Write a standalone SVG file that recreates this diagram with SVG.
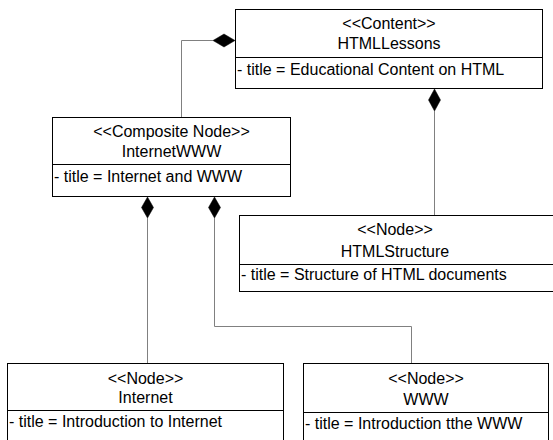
<svg xmlns="http://www.w3.org/2000/svg" width="553" height="440" viewBox="0 0 553 440">
<style>
.box{fill:#fff;stroke:#000;stroke-width:1}
.div{stroke:#000;stroke-width:1}
.t{font-family:"Liberation Sans",Arial,sans-serif;font-size:16px;fill:#000}
.c{text-anchor:middle}
.con{fill:none;stroke:#808080;stroke-width:1}
.dia{fill:#000;stroke:#000;stroke-width:0.5}
</style>
<rect width="553" height="440" fill="#fff"/>
<g id="connectors">
<polyline class="con" points="213,40.5 181.5,40.5 181.5,117"/>
<polygon class="dia" points="235,40.5 224,34 213,40.5 224,47"/>
<line class="con" x1="434.5" y1="111" x2="434.5" y2="215"/>
<polygon class="dia" points="434.5,89 440.5,100 434.5,111 428.5,100"/>
<line class="con" x1="147.5" y1="218" x2="147.5" y2="363"/>
<polygon class="dia" points="147.5,197 153.5,207.5 147.5,218 141.5,207.5"/>
<polyline class="con" points="214.5,218 214.5,326.5 411.5,326.5 411.5,363"/>
<polygon class="dia" points="214.5,197 220.5,207.5 214.5,218 208.5,207.5"/>
</g>
<g id="HTMLLessons">
<rect class="box" x="235.5" y="9.5" width="307" height="79"/>
<line class="div" x1="235.5" y1="57.5" x2="542.5" y2="57.5"/>
<text class="t c" x="389" y="29">&lt;&lt;Content&gt;&gt;</text>
<text class="t c" x="389" y="48.5">HTMLLessons</text>
<text class="t" x="237" y="74.5">- title = Educational Content on HTML</text>
</g>
<g id="InternetWWW">
<rect class="box" x="52.5" y="117.5" width="238" height="79"/>
<line class="div" x1="52.5" y1="164.5" x2="290.5" y2="164.5"/>
<text class="t c" x="171.5" y="137">&lt;&lt;Composite Node&gt;&gt;</text>
<text class="t c" x="171.5" y="156.5">InternetWWW</text>
<text class="t" x="54" y="181.5">- title = Internet and WWW</text>
</g>
<g id="HTMLStructure">
<rect class="box" x="239.5" y="215.5" width="320" height="76"/>
<line class="div" x1="239.5" y1="264.5" x2="559.5" y2="264.5"/>
<text class="t c" x="395" y="234.5">&lt;&lt;Node&gt;&gt;</text>
<text class="t c" x="395" y="256.5">HTMLStructure</text>
<text class="t" x="241" y="279.5">- title = Structure of HTML documents</text>
</g>
<g id="Internet">
<rect class="box" x="7.5" y="363.5" width="276" height="82"/>
<line class="div" x1="7.5" y1="410.5" x2="283.5" y2="410.5"/>
<text class="t c" x="145.5" y="383.5">&lt;&lt;Node&gt;&gt;</text>
<text class="t c" x="145.5" y="403">Internet</text>
<text class="t" x="9" y="426.5">- title = Introduction to Internet</text>
</g>
<g id="WWW">
<rect class="box" x="303.5" y="363.5" width="245" height="82"/>
<line class="div" x1="303.5" y1="412.5" x2="548.5" y2="412.5"/>
<text class="t c" x="426" y="383.5">&lt;&lt;Node&gt;&gt;</text>
<text class="t c" x="426" y="404.5">WWW</text>
<text class="t" x="305" y="428.5">- title = Introduction tthe WWW</text>
</g>
</svg>
